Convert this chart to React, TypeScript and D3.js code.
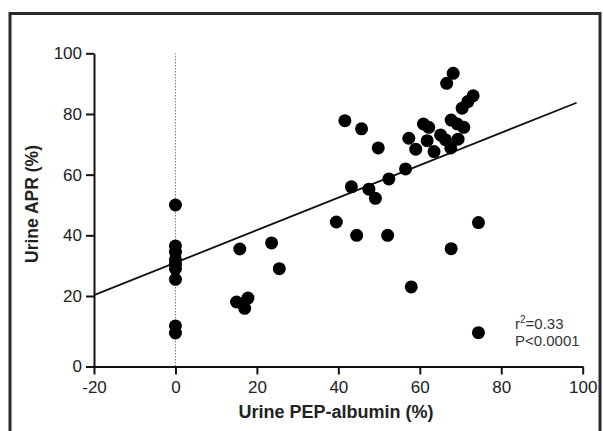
import React, { useEffect, useRef } from 'react'
import * as d3 from 'd3'

// urine PEP-albumin (%) vs urine APR (%)
const pepAlbumin = [
  0, 0, 0, 0, 0, 0, 0, 0, 0,
  15, 17, 17.8, 15.8, 23.6, 25.5,
  39.5, 44.5, 52.1, 43.2, 47.5, 49.1, 52.4, 56.5, 49.8, 41.6, 45.7,
  57.3, 59, 60.9, 62.2, 61.8, 63.5, 65.1, 66.3, 67.6, 69.4, 67.7, 69.2, 70.8,
  66.6, 68.2, 70.4, 71.8, 73.1, 57.9, 67.7, 74.4, 74.4
]
const urineApr = [
  50, 36.5, 34.5, 32, 30.5, 29, 25.5, 11.5, 9.5,
  18.3, 16.5, 19.4, 35.5, 37.5, 29,
  44.4, 40, 40, 56, 55.2, 52.2, 58.6, 61.9, 68.8, 77.8, 75.1,
  72, 68.4, 76.7, 75.6, 71.2, 67.6, 73.1, 71.5, 68.8, 71.7, 78, 76.7, 75.6,
  90.1, 93.4, 81.9, 84.1, 86, 23, 35.6, 44.2, 9.6
]

// fitted line end points
const fitX = [-20, 98.5]
const fitY = [20.3, 83.7]

const xTicks = [-20, 0, 20, 40, 60, 80, 100]
const yTicks = [0, 20, 40, 60, 80, 100]

const statLines = ['=0.33', 'P<0.0001']

const font = '"Liberation Sans", Arial, sans-serif'

export default function App() {
  const ref = useRef<SVGSVGElement>(null)

  useEffect(() => {
    const svg = d3.select(ref.current)
    svg.selectAll('*').remove()

    const x = d3.scaleLinear().domain([-20, 100]).range([94, 582.7])
    // the scanned axis is a little stretched between 0 and 20
    const y = d3.scaleLinear().domain([0, 20, 100]).range([366.5, 296, 53.3])

    // frame
    svg.append('rect')
      .attr('x', 10).attr('y', 13.5)
      .attr('width', 590).attr('height', 440)
      .attr('fill', 'none')
      .attr('stroke', '#2b2b2b')
      .attr('stroke-width', 3)

    // dotted line at x = 0
    svg.append('line')
      .attr('x1', x(0)).attr('x2', x(0))
      .attr('y1', y(0)).attr('y2', y(100))
      .attr('stroke', '#777')
      .attr('stroke-width', 1)
      .attr('stroke-dasharray', '1.5,1.5')

    // y axis
    const gy = svg.append('g')
      .attr('transform', `translate(${x(-20)},0)`)
      .call(d3.axisLeft(y).tickValues(yTicks).tickSize(8).tickSizeOuter(0).tickPadding(4).tickFormat((d) => String(d)))
    gy.selectAll('path, line').attr('stroke', '#111').attr('stroke-width', 2)
    gy.selectAll('text').attr('font-family', font).attr('font-size', 17).attr('fill', '#222')

    // x axis
    const gx = svg.append('g')
      .attr('transform', `translate(0,${y(0)})`)
      .call(d3.axisBottom(x).tickValues(xTicks).tickSize(8).tickSizeOuter(0).tickPadding(6).tickFormat((d) => String(d)))
    gx.selectAll('path, line').attr('stroke', '#111').attr('stroke-width', 2)
    gx.selectAll('text').attr('font-family', font).attr('font-size', 17).attr('fill', '#222')

    // regression line
    svg.append('line')
      .attr('x1', x(fitX[0])).attr('y1', y(fitY[0]))
      .attr('x2', x(fitX[1])).attr('y2', y(fitY[1]))
      .attr('stroke', '#111')
      .attr('stroke-width', 1.8)

    // points
    svg.append('g')
      .selectAll('circle')
      .data(pepAlbumin.map((v, i) => [v, urineApr[i]]))
      .enter()
      .append('circle')
      .attr('cx', (d) => x(d[0]))
      .attr('cy', (d) => y(d[1]))
      .attr('r', 6.5)
      .attr('fill', '#000')

    // axis titles
    svg.append('text')
      .attr('x', 336).attr('y', 418)
      .attr('text-anchor', 'middle')
      .attr('font-family', font).attr('font-size', 18).attr('font-weight', 'bold')
      .attr('fill', '#222')
      .text('Urine PEP-albumin (%)')

    svg.append('text')
      .attr('transform', 'translate(38,204) rotate(-90)')
      .attr('text-anchor', 'middle')
      .attr('font-family', font).attr('font-size', 17.5).attr('font-weight', 'bold')
      .attr('fill', '#222')
      .text('Urine APR (%)')

    // stats
    const t1 = svg.append('text')
      .attr('x', 515).attr('y', 329)
      .attr('font-family', font).attr('font-size', 15).attr('fill', '#333')
    t1.append('tspan').text('r')
    t1.append('tspan').attr('font-size', 10).attr('dy', -6).text('2')
    t1.append('tspan').attr('dy', 6).text(statLines[0])

    svg.append('text')
      .attr('x', 515).attr('y', 346)
      .attr('font-family', font).attr('font-size', 15).attr('fill', '#333')
      .text(statLines[1])
  }, [])

  return (
    <svg
      ref={ref}
      width={603}
      height={431}
      style={{ position: 'absolute', left: 0, top: 0, background: '#fff' }}
    />
  )
}
